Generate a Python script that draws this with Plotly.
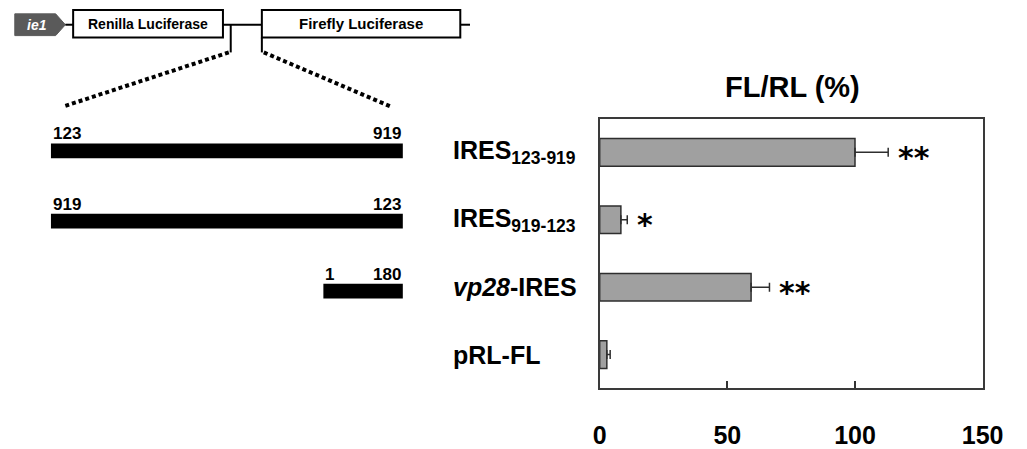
import plotly.graph_objects as go

W, H = 1027, 449

# ---------------- data ----------------
constructs = ["IRES123-919", "IRES919-123", "vp28-IRES", "pRL-FL"]
construct_labels = [
    "<b>IRES<sub>123-919</sub></b>",
    "<b>IRES<sub>919-123</sub></b>",
    "<b><i>vp28</i>-IRES</b>",
    "<b>pRL-FL</b>",
]
fl_rl = [100.0, 8.3, 59.3, 2.8]          # FL/RL (%)
fl_rl_err = [13.0, 2.5, 7.2, 1.3]        # SD
signif = ["**", "*", "**", ""]

seg_names = ["IRES123-919", "IRES919-123", "vp28-IRES"]
seg_left = [123, 919, 1]                  # nucleotide label at left end
seg_right = [919, 123, 180]               # nucleotide label at right end

x_ticks = [0, 50, 100, 150]

# ---------------- helpers ----------------
FONT = "Liberation Sans, Arial, sans-serif"


def px(x):
    return x / W


def py(y):
    return 1 - y / H


seg_len = [abs(r - l) + 1 for l, r in zip(seg_left, seg_right)]
max_len = max(seg_len)

fig = go.Figure()

# main bars
fig.add_trace(go.Bar(
    y=constructs, x=fl_rl, orientation="h",
    marker=dict(color="#a0a0a0", line=dict(color="#2e2e2e", width=1.5)),
    width=0.41,
    error_x=dict(type="data", array=fl_rl_err, arrayminus=[0] * len(fl_rl_err),
                 symmetric=False, color="#2e2e2e", thickness=1.5, width=4.5),
    xaxis="x", yaxis="y", showlegend=False, hoverinfo="skip",
))

# construct segments (nucleotide scale, right aligned)
fig.add_trace(go.Bar(
    y=seg_names, x=seg_len, base=[-l for l in seg_len], orientation="h",
    marker=dict(color="black", line=dict(width=0)),
    width=0.21, xaxis="x2", yaxis="y2", showlegend=False, hoverinfo="skip",
))

annotations = []
# segment end labels
for name, L, a, b in zip(seg_names, seg_len, seg_left, seg_right):
    annotations.append(dict(x=-L, y=name, xref="x2", yref="y2", text=f"<b>{a}</b>",
                            xanchor="left", yanchor="middle", yshift=17, showarrow=False,
                            font=dict(family=FONT, size=17, color="black")))
    annotations.append(dict(x=0, y=name, xref="x2", yref="y2", text=f"<b>{b}</b>",
                            xanchor="right", yanchor="middle", yshift=17, showarrow=False,
                            font=dict(family=FONT, size=17, color="black")))

# category labels
for name, lab in zip(constructs, construct_labels):
    annotations.append(dict(x=px(456), y=name, xref="paper", yref="y", text=lab,
                            xanchor="left", yanchor="middle", showarrow=False,
                            font=dict(family=FONT, size=25, color="black")))

# significance
for name, v, e, s in zip(constructs, fl_rl, fl_rl_err, signif):
    if s:
        annotations.append(dict(x=v + e, y=name, xref="x", yref="y", text=f"<b>{s}</b>",
                                xanchor="left", yanchor="middle", xshift=8, yshift=-5,
                                showarrow=False,
                                font=dict(family="DejaVu Sans", size=30, color="black")))

# title
annotations.append(dict(x=px(807.5), y=py(88), xref="paper", yref="paper",
                        text="<b>FL/RL (%)</b>", xanchor="center", yanchor="middle",
                        showarrow=False, font=dict(family=FONT, size=29, color="black")))

# diagram texts
for tx, ty, txt, size, col in [(31, 25, "<b><i>ie1</i></b>", 14, "white"),
                               (145, 24, "<b>Renilla Luciferase</b>", 14, "black"),
                               (364, 24, "<b>Firefly Luciferase</b>", 15, "black")]:
    annotations.append(dict(x=px(tx), y=py(ty), xref="paper", yref="paper",
                            text=txt, showarrow=False, xanchor="center", yanchor="middle",
                            font=dict(family=FONT, size=size, color=col)))

# diagram shapes (schematic, in paper fractions)
shapes = []


def line(x0, y0, x1, y1, w=2, dash="solid", color="black"):
    shapes.append(dict(type="line", xref="paper", yref="paper",
                       x0=px(x0), y0=py(y0), x1=px(x1), y1=py(y1),
                       line=dict(color=color, width=w, dash=dash)))


def rect(x0, y0, x1, y1):
    shapes.append(dict(type="rect", xref="paper", yref="paper",
                       x0=px(x0), y0=py(y0), x1=px(x1), y1=py(y1),
                       line=dict(color="black", width=2), fillcolor="white"))


arrow_pts = [(8, 14), (50, 14), (60, 25), (50, 36), (8, 36)]
path = "M " + " L ".join(f"{px(a):.5f},{py(b):.5f}" for a, b in arrow_pts) + " Z"
shapes.append(dict(type="path", xref="paper", yref="paper", path=path,
                   fillcolor="#5a5a5a", line=dict(color="#5a5a5a", width=1)))
line(60, 25, 68, 25)
line(222, 25, 262, 25)
line(466, 25, 476, 25)
line(230, 25, 230, 53)
line(262, 38, 262, 53)
line(228, 53, 60, 107, w=4, dash="4px,3px")
line(264, 53, 395, 108, w=4, dash="4px,3px")
rect(68, 10, 222, 38)
rect(262, 10, 466, 38)

fig.update_layout(
    width=W, height=H,
    margin=dict(l=0, r=0, t=0, b=0),
    paper_bgcolor="white", plot_bgcolor="white",
    barmode="overlay",
    annotations=annotations, shapes=shapes,
    xaxis=dict(domain=[px(609.3), px(1003)], range=[0, 150], anchor="y",
               tickvals=x_ticks, ticks="inside", ticklen=7, tickwidth=1.5,
               tickcolor="#333333", showline=True, linewidth=2, linecolor="#3a3a3a",
               mirror=True, showgrid=False, zeroline=False,
               ticklabelstandoff=24,
               tickfont=dict(family=FONT, size=25, color="black", weight="bold")),
    yaxis=dict(domain=[py(392.7), py(120)], type="category",
               categoryorder="array", categoryarray=constructs,
               autorange="reversed", anchor="x",
               showline=True, linewidth=2, linecolor="#3a3a3a", mirror=True,
               showticklabels=False, ticks="", showgrid=False, zeroline=False),
    xaxis2=dict(domain=[px(45), px(407)], range=[-max_len, 0], anchor="y2",
                visible=False, fixedrange=True),
    yaxis2=dict(domain=[py(330), py(117)], type="category",
                categoryorder="array", categoryarray=seg_names,
                autorange="reversed", anchor="x2", visible=False),
)

fig.write_html(
    "out.html",
    config={"displayModeBar": False},
    post_script="document.body.style.margin='0';document.body.style.overflow='hidden';",
)
